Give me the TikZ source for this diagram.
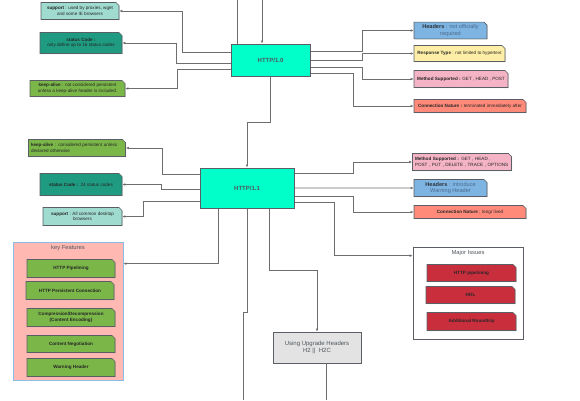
\documentclass[tikz,border=0pt]{standalone}
\usepackage{fontspec}
\setmainfont{Liberation Sans}
\usepackage{tikz}
\usetikzlibrary{arrows.meta,positioning,calc,shapes.misc,shadows}

\definecolor{lightteal}{HTML}{A0DBCF}
\definecolor{darkteal}{HTML}{1E9B80}
\definecolor{leafgreen}{HTML}{7AB648}
\definecolor{skyblue}{HTML}{7DB4E2}
\definecolor{paleyellow}{HTML}{FFEFA6}
\definecolor{rosepink}{HTML}{F5B3C6}
\definecolor{salmon}{HTML}{FF8A7A}
\definecolor{alertred}{HTML}{C92E3C}
\definecolor{aqua}{HTML}{00FFC9}
\definecolor{blush}{HTML}{FFB9B2}
\definecolor{paleblue}{HTML}{8BBCE6}
\definecolor{lightgray}{HTML}{E3E3E3}
\definecolor{boxline}{HTML}{5A5F66}
\definecolor{linegray}{HTML}{6E6E6E}
\definecolor{textdark}{HTML}{262626}
\definecolor{bluetext}{HTML}{4D6A8C}
\definecolor{titlegray}{HTML}{4F555C}

\begin{document}
\begin{tikzpicture}[x=1pt,y=-1pt,
    card/.style={chamfered rectangle, chamfered rectangle corners=north east,
        chamfered rectangle xsep=1.5pt, chamfered rectangle ysep=1.5pt,
        draw=boxline, line width=0.6pt, inner sep=1pt, align=center,
        font=\fontsize{4.6}{5.5}\selectfont, text=textdark,
        drop shadow={shadow xshift=0.7pt, shadow yshift=-0.7pt, opacity=0.3}},
    item/.style={card, font=\fontsize{4.6}{5.5}\selectfont\bfseries},
    mainbox/.style={draw=boxline, line width=1pt, fill=aqua, text=titlegray,
        font=\fontsize{6}{7}\selectfont\bfseries},
    title/.style={font=\fontsize{5.8}{6.8}\selectfont, text=titlegray},
    link/.style={draw=linegray, line width=0.6pt},
    arr/.style={link, -{Latex[length=3pt,width=2.6pt]}}]
    \useasboundingbox (0,0) rectangle (580,400);

    % HTTP/1.0
    \node[mainbox, minimum width=79, minimum height=32] (h10) at (270.5,60) {HTTP/1.0};
    \coordinate (up10) at (237,0);
    \coordinate (in10) at (262,0);

    \node[card, fill=lightteal, minimum width=78, minimum height=17] (sup10) at (80,11)
        {\textbf{support} : used by proxies, wget\\and some IE browsers};
    \node[card, fill=darkteal, minimum width=82, minimum height=21] (sc10) at (81,43)
        {\textbf{status Code :}\\only define up to 16 status codes};
    \node[card, fill=leafgreen, minimum width=95, minimum height=16] (ka10) at (77.5,88.5)
        {\textbf{keep-alive} : not considered persistent\\unless a keep-alive header is included.};

    \node[card, fill=skyblue, text=bluetext, font=\fontsize{5.6}{6.6}\selectfont,
        minimum width=73, minimum height=16] (hd10) at (450.5,30.5)
        {\textbf{\color{textdark!80!bluetext}Headers} : not officially\\required};
    \node[card, fill=paleyellow, minimum width=91, minimum height=16] (rt10) at (459.5,53.5)
        {\textbf{Response Type} : not limited to hypertext};
    \node[card, fill=rosepink, minimum width=94, minimum height=17] (ms10) at (461,79)
        {\textbf{Method Supported :} GET , HEAD , POST};
    \node[card, fill=salmon, minimum width=112, minimum height=13] (cn10) at (470,106)
        {\textbf{Connection Nature :} terminated immediately after};

    \draw[link] (h10.north -| up10) -- (up10);
    \draw[arr] (in10) -- (in10 |- h10.north);
    \draw[arr] (h10.west |- 0,52) -- ++(-48,0) |- (sup10);
    \draw[arr] (h10.west |- 0,63) -- ++(-54,0) |- (sc10);
    \draw[arr] (h10.west |- 0,69) -- ++(-53,0) |- (ka10);
    \draw[arr] (h10.east |- 0,51) -- ++(52,0) |- (hd10);
    \draw[arr] (h10.east |- 0,60) -- ++(52,0) |- (rt10);
    \draw[arr] (h10.east |- 0,67) -- ++(52,0) |- (ms10);
    \draw[arr] (h10.east |- 0,73) -- ++(43,0) |- (cn10);

    % HTTP/1.1
    \node[mainbox, minimum width=94, minimum height=40] (h11) at (247,188) {HTTP/1.1};
    \draw[arr] (h10.south) -- ++(0,46) -| (h11);

    \node[card, fill=leafgreen, text width=92, align=left, minimum height=17] (ka11) at (77,148)
        {\textbf{keep-alive} : considered persistent unless\\declared otherwise};
    \node[card, fill=darkteal, minimum width=82, minimum height=22] (sc11) at (81,184.5)
        {\textbf{status Code :}\enspace 24 status codes};
    \node[card, fill=lightteal, minimum width=79, minimum height=18] (sup11) at (82.5,216.5)
        {\textbf{support} : All common desktop\\browsers};

    \node[card, fill=rosepink, text width=94, align=left, minimum height=17] (ms11) at (462,162)
        {\textbf{Method Supported :} GET , HEAD ,\\POST , PUT , DELETE , TRACE , OPTIONS};
    \node[card, fill=skyblue, text=bluetext, font=\fontsize{5.6}{6.6}\selectfont,
        minimum width=73, minimum height=17] (hd11) at (450.5,188)
        {\textbf{\color{textdark!80!bluetext}Headers} : introduce\\Warning Header};
    \node[card, fill=salmon, minimum width=112, minimum height=13] (cn11) at (470,212)
        {\textbf{Connection Nature} : longr lived};

    \draw[arr] (h11.west |- 0,174) -- ++(-37,0) |- (ka11);
    \draw[arr] (h11.west |- 0,189) -- ++(-38,0) |- (sc11);
    \draw[arr] (h11.west |- 0,201) -- ++(-56,0) |- (sup11);
    \draw[arr] (h11.east |- 0,173) -- ++(59,0) |- (ms11);
    \draw[arr] (h11) -- (hd11);
    \draw[arr] (h11.east |- 0,196) -- ++(59,0) |- (cn11);

    % key features
    \node[draw=paleblue, fill=blush, line width=0.8pt, minimum width=110, minimum height=138,
        inner sep=0pt] (keyf) at (68,311) {};
    \node[title, anchor=north, yshift=-0.3pt] (keyft) at (keyf.north) {key Features};
    \node[item, fill=leafgreen, minimum width=88, minimum height=18] (kf1) at (71,268.5) {HTTP Pipelining};
    \node[item, fill=leafgreen, minimum width=88, minimum height=18] (kf2) at (70,290.5) {HTTP Persistent Connection};
    \node[item, fill=leafgreen, minimum width=88, minimum height=18] (kf3) at (71,317.5)
        {Compression/Decompression\\(Content Encoding)};
    \node[item, fill=leafgreen, minimum width=88, minimum height=17] (kf4) at (71,344) {Content Negotiation};
    \node[item, fill=leafgreen, minimum width=88, minimum height=18] (kf5) at (71,367.5) {Warning Header};

    % major issues
    \node[draw=boxline, fill=white, line width=0.7pt, minimum width=110, minimum height=92,
        inner sep=0pt] (major) at (468,293) {};
    \node[title, anchor=north, yshift=-0.3pt] (majort) at (major.north) {Major Issues};
    \node[item, fill=alertred, minimum width=89, minimum height=17] (mi1) at (471.5,273) {HTTP pipelining};
    \node[item, fill=alertred, minimum width=89, minimum height=17] (mi2) at (470.5,295) {HOL};
    \node[item, fill=alertred, minimum width=89, minimum height=18] (mi3) at (471.5,321.5) {Additional Roundtrip};

    % upgrade
    \node[draw=boxline, fill=lightgray, line width=0.7pt, minimum width=88, minimum height=31,
        align=center, title, font=\fontsize{6}{7.6}\selectfont,
        drop shadow={shadow xshift=0.7pt, shadow yshift=-0.7pt, opacity=0.3}] (upg) at (317,347.5)
        {Using Upgrade Headers\\H2 || \ H2C};
    \coordinate (down11) at (243,400);
    \coordinate (down2) at (326,400);

    \draw[arr] (h11.south -| 218,0) |- ($(keyf.north east)+(0,22)$);
    \draw[link] (h11.south) -- ++(0,104) -| (down11);
    \draw[arr] (h11.south -| 269,0) -- ++(0,62) -| (upg);
    \draw[arr] (h11.east |- 0,202) -- ++(40,0) |- ($(major.north west)+(0,9)$);
    \draw[link] (upg.south -| down2) -- (down2);
\end{tikzpicture}
\end{document}
